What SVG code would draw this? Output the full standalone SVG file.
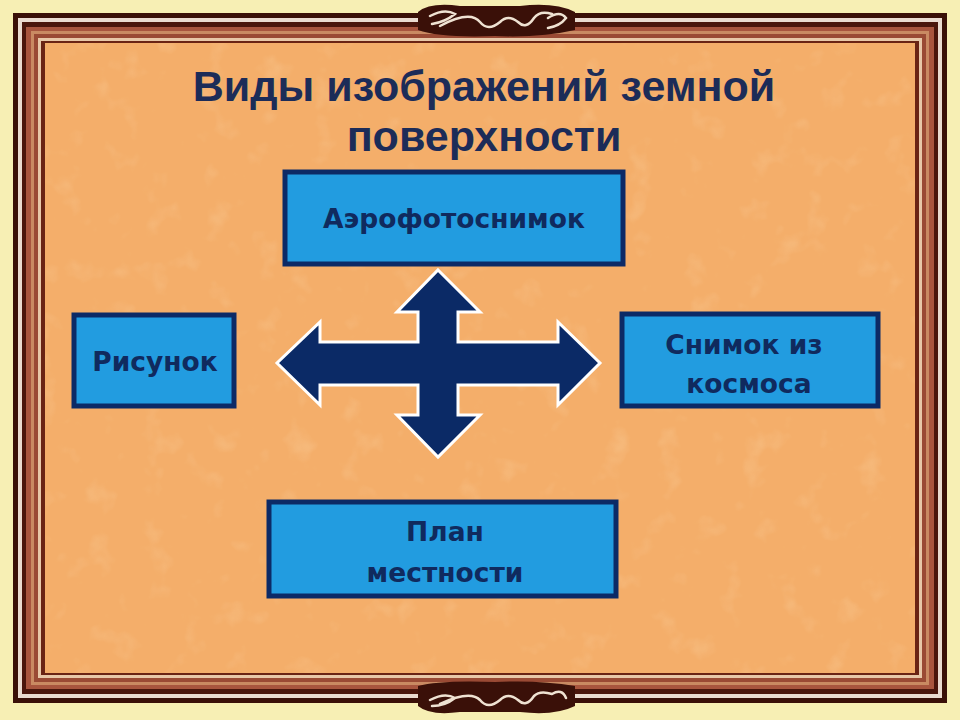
<svg xmlns="http://www.w3.org/2000/svg" width="960" height="720" viewBox="0 0 960 720">
<defs>
<style>
.box{fill:#229ce0;stroke:#0c2a66;stroke-width:5}
.lbl{font-family:"DejaVu Sans","Noto Sans",sans-serif;font-weight:bold;font-size:26.5px;fill:#102a5e;text-anchor:middle}
.title{font-family:"Liberation Sans",Arial,sans-serif;font-weight:bold;font-size:43px;fill:#1c2c58;text-anchor:middle}
.orn{fill:none;stroke:#efe2d2;stroke-width:2.5;stroke-linecap:round}
</style>
<filter id="tex" x="0" y="0" width="100%" height="100%">
<feTurbulence type="fractalNoise" baseFrequency="0.035" numOctaves="3" seed="4" result="n"/>
<feColorMatrix in="n" type="matrix" values="0 0 0 0 1  0 0 0 0 0.84  0 0 0 0 0.58  0 0 0 1.2 -0.7" result="m"/>
<feComposite in="m" in2="SourceGraphic" operator="in"/>
</filter>
</defs>
<rect x="0" y="0" width="960" height="720" fill="#f7efb4"/>
<g id="frame">
<rect x="13" y="13" width="934" height="690" fill="#3a1008"/>
<rect x="18" y="18" width="924" height="680" fill="#eadbd0"/>
<rect x="22" y="22" width="916" height="672" fill="#4a160c"/>
<rect x="26" y="27" width="908" height="662" fill="#a8553e"/>
<rect x="31" y="31" width="898" height="654" fill="#c98a62"/>
<rect x="34" y="34" width="892" height="648" fill="#9a4a34"/>
<rect x="38" y="38" width="884" height="640" fill="#e8c8a8"/>
<rect x="41" y="41" width="878" height="634" fill="#6a2414"/>
<rect x="45" y="43" width="870" height="630" fill="#f4ae6a"/>
<rect x="45" y="43" width="870" height="630" fill="#f4ae6a" filter="url(#tex)" opacity="0.45"/>
</g>
<g id="ornament-top">
<path d="M418 12 Q430 2 460 6 L520 6 Q555 2 575 12 L575 30 Q540 38 495 36 Q440 38 418 30 Z" fill="#3a1008"/>
<path class="orn" d="M430 16 Q445 8 455 14 Q445 22 432 24 M440 26 Q470 10 480 22 Q488 32 500 22 Q508 14 518 22 Q526 30 534 18 Q540 10 552 14 M548 18 Q560 10 566 18 Q560 26 548 28"/>
</g>
<g id="ornament-bottom">
<path d="M418 686 Q440 680 495 682 Q540 680 575 686 L575 706 Q555 716 520 712 L460 712 Q430 716 418 706 Z" fill="#3a1008"/>
<path class="orn" d="M430 700 Q445 692 455 698 Q445 706 432 706 M440 704 Q470 690 480 700 Q488 710 500 700 Q508 692 518 700 Q526 708 534 696 Q540 690 552 694 Q562 688 566 698"/>
</g>
<g id="title">
<text class="title" x="484" y="101">Виды изображений земной</text>
<text class="title" x="484" y="151">поверхности</text>
</g>
<g id="connectors">
<path d="M438 270 L480 312 L458 312 L458 342 L558 342 L558 322 L600 363 L558 405 L558 385 L458 385 L458 415 L480 415 L438 457 L397 415 L418 415 L418 385 L320 385 L320 405 L277 363 L320 322 L320 342 L418 342 L418 312 L397 312 Z" fill="#0b2a66" stroke="#ffffff" stroke-width="3" stroke-linejoin="miter"/>
</g>
<g id="node-aero">
<rect class="box" x="285" y="172" width="338" height="92"/>
<text class="lbl" x="454" y="228">Аэрофотоснимок</text>
</g>
<g id="node-risunok">
<rect class="box" x="74" y="315" width="160" height="91"/>
<text class="lbl" x="155" y="371">Рисунок</text>
</g>
<g id="node-kosmos">
<rect class="box" x="622" y="314" width="256" height="92"/>
<text class="lbl" x="744" y="354">Снимок из</text>
<text class="lbl" x="749" y="393">космоса</text>
</g>
<g id="node-plan">
<rect class="box" x="269" y="502" width="347" height="94"/>
<text class="lbl" x="445" y="541">План</text>
<text class="lbl" x="445" y="582">местности</text>
</g>
</svg>
